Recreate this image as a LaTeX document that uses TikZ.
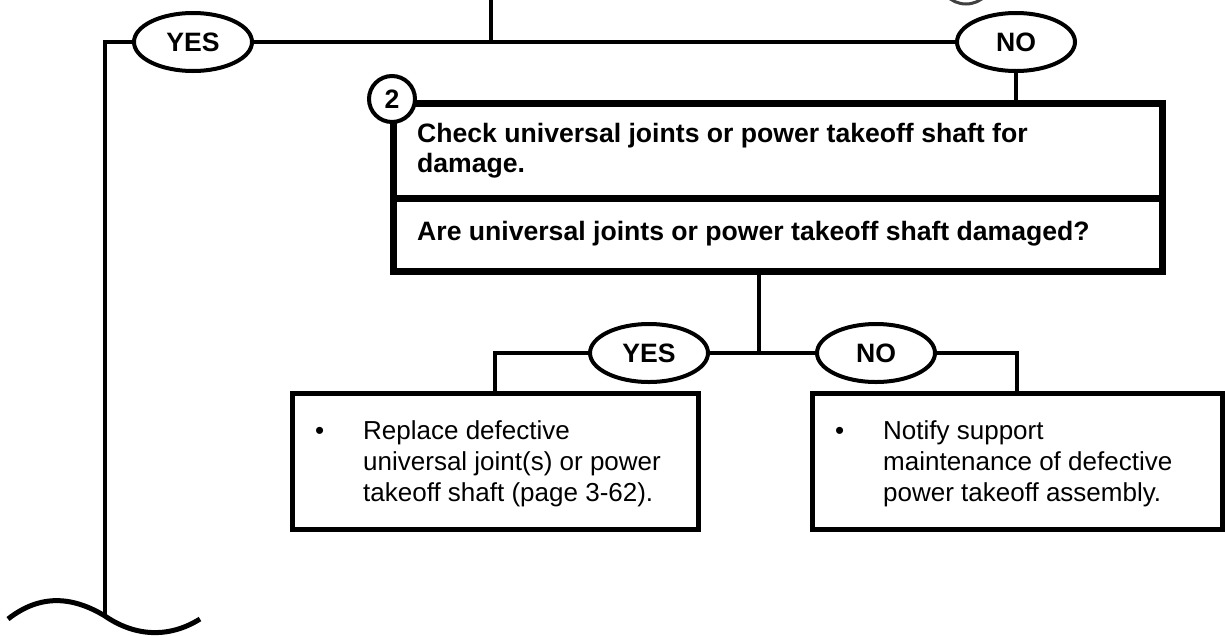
\documentclass[tikz,border=0pt]{standalone}
\usepackage{fontspec}
\setmainfont{Liberation Sans}
\usetikzlibrary{shapes.geometric}
\begin{document}
\begin{tikzpicture}[x=1pt,y=-1pt,
  conn/.style={line width=4pt, line join=miter},
  oval/.style={ellipse, draw, line width=4pt, fill=white, minimum width=118pt, minimum height=58pt, inner sep=0pt, outer sep=0pt, font=\fontsize{26.6}{30}\selectfont\bfseries},
  stepbox/.style={draw, line width=7pt, outer sep=0pt, inner sep=0pt, anchor=north west},
  actbox/.style={draw, line width=5pt, outer sep=0pt, inner sep=0pt, anchor=north west},
  num/.style={circle, draw, line width=4pt, fill=white, minimum size=46pt, inner sep=0pt, font=\fontsize{26.6}{30}\selectfont\bfseries},
  txtb/.style={inner sep=0pt, anchor=base west, font=\fontsize{26.6}{30}\selectfont\bfseries},
  txt/.style={inner sep=0pt, anchor=base west, font=\fontsize{26}{30}\selectfont},
  wave/.style={line width=5pt}
]
\useasboundingbox (0,0) rectangle (1225,635);

% sliver of the shape above (cut off by the page edge)
\begin{scope}
  \clip (900,0) rectangle (1030,12);
  \draw[line width=3pt, black!75] (966,-25) circle[x radius=28pt, y radius=29pt];
\end{scope}

% step 2 box
\node[stepbox, minimum width=769pt, minimum height=95pt] (check) at (393,103) {};
\node[stepbox, minimum width=769pt, minimum height=73pt] (ask) at (393,198) {};
\node[txtb] (c1) at (417,142) {Check universal joints or power takeoff shaft for};
\node[txtb] (c2) at (417,172) {damage.};
\node[txtb] (q1) at (417,240) {Are universal joints or power takeoff shaft damaged?};
\node[num] (n2) at (392,99) {2};

% top connectors
\coordinate (topin) at (491,0);
\coordinate (tj) at (491,42);
\coordinate (lc) at (105,42);
\coordinate (wv) at (105,616);
\node[oval] (yes1) at (193,42) {YES};
\node[oval] (no1) at (1016,42) {NO};
\draw[conn] (topin) -- (tj);
\draw[conn] (yes1.east) -- (no1.west);
\draw[conn] (yes1.west) -- (lc) -- (wv);
\draw[conn] (no1.south) -- (no1.south |- check.north);

% wave break
\draw[wave] (8,619) .. controls (40,594) and (72,596) .. (wv) .. controls (134,636) and (168,639) .. (200,619);

% lower part
\node[actbox, minimum width=406pt, minimum height=136pt] (lbox) at (292,393) {};
\node[actbox, minimum width=410pt, minimum height=136pt] (rbox) at (812,393) {};
\coordinate (bt) at (759,271);
\coordinate (bj) at (759,353);
\node[oval] (yes2) at (649,353) {YES};
\node[oval] (no2) at (876,353) {NO};
\draw[conn] (bt) -- (bj);
\draw[conn] (yes2.east) -- (no2.west);
\draw[conn] (yes2.west) -| (lbox.north);
\draw[conn] (no2.east) -| (rbox.north);

% action texts
\node[txt] (lb) at (315,439) {•};
\node[txt] (l1) at (363,439) {Replace defective};
\node[txt] (l2) at (363,470) {universal joint(s) or power};
\node[txt] (l3) at (363,501) {takeoff shaft (page 3-62).};
\node[txt] (rb) at (835,439) {•};
\node[txt] (r1) at (883,439) {Notify support};
\node[txt] (r2) at (883,470) {maintenance of defective};
\node[txt] (r3) at (883,501) {power takeoff assembly.};
\end{tikzpicture}
\end{document}
